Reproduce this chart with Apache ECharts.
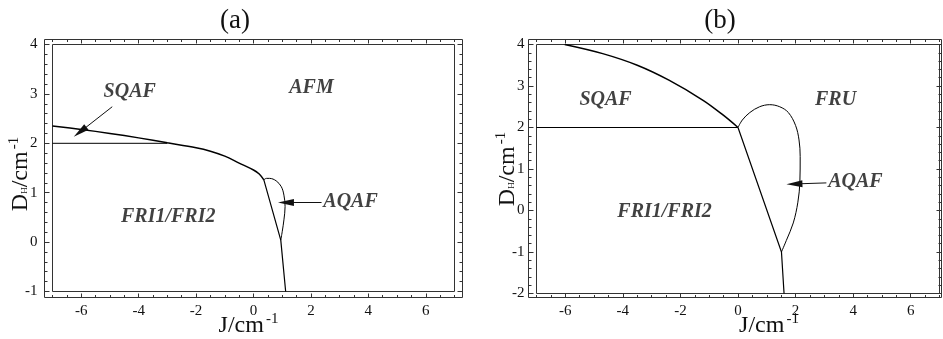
<!DOCTYPE html>
<html><head><meta charset="utf-8">
<script src="https://cdn.jsdelivr.net/npm/echarts@6/dist/echarts.min.js"></script>
<style>html,body{margin:0;padding:0;background:#fff}#c{width:943px;height:339px}</style>
</head><body><div id="c"></div>
<script>
// ---------- tick labels ----------
const xTicks = [-6, -4, -2, 0, 2, 4, 6];
const yTicksA = [-1, 0, 1, 2, 3, 4];
const yTicksB = [-2, -1, 0, 1, 2, 3, 4];

// ---------- panel (a) ----------
const aCurveX = [-7, -6, -5, -4, -3, -2, -1.5, -1, -0.5, 0, 0.2, 0.36];
const aCurveY = [2.35, 2.28, 2.20, 2.11, 2.01, 1.91, 1.84, 1.74, 1.60, 1.46, 1.38, 1.26];
const aStraightX = [0.36, 0.95, 1.12];
const aStraightY = [1.26, 0.04, -1.0];
const aLevelX = [-7, -3.0];
const aLevelY = [2, 2];
const aLoopX = [0.36, 0.45, 0.56, 0.79, 0.97, 1.06, 1.10, 1.06, 1.0, 0.95];
const aLoopY = [1.26, 1.29, 1.29, 1.24, 1.12, 0.95, 0.72, 0.45, 0.21, 0.04];
const aLabels = ['SQAF', 'AFM', 'FRI1/FRI2', 'AQAF'];
const aLabelX = [-4.31, 2.02, -2.97, 3.38];
const aLabelY = [3.04, 3.12, 0.52, 0.81];
const aArrowFrom = [[-4.92, 2.74], [2.37, 0.80]];
const aArrowTo = [[-6.04, 2.23], [1.13, 0.80]];

// ---------- panel (b) ----------
const bCurveX = [-6.02, -4.7, -3.5, -2.4, -1.2, -0.5, 0];
const bCurveY = [4.0, 3.78, 3.5, 3.14, 2.65, 2.29, 2.0];
const bStraightX = [0, 1.51, 1.6];
const bStraightY = [2, -1.0, -2.0];
const bLevelX = [-7, 0];
const bLevelY = [2, 2];
const bLoopX = [0, 0.15, 0.41, 0.75, 1.1, 1.45, 1.75, 2.0, 2.12, 2.16, 2.15, 2.08, 1.92, 1.68, 1.51];
const bLoopY = [2.0, 2.18, 2.36, 2.5, 2.55, 2.5, 2.36, 2.05, 1.7, 1.3, 0.7, 0.2, -0.3, -0.72, -1.0];
const bLabels = ['SQAF', 'FRU', 'FRI1/FRI2', 'AQAF'];
const bLabelX = [-4.60, 3.39, -2.55, 4.08];
const bLabelY = [2.665, 2.665, -0.02, 0.70];
const bArrowFrom = [[3.07, 0.665]];
const bArrowTo = [[1.96, 0.64]];

// ---------- helpers ----------
const FONT = "'Liberation Serif','DejaVu Serif','Times New Roman',serif";
const INK = '#111';
const FRAME = '#333';
const zip = (xs, ys) => xs.map((x, i) => [x, ys[i]]);

const nameRich = {
  m: {fontFamily: FONT, fontSize: 24, lineHeight: 28, color: INK},
  sup: {fontFamily: FONT, fontSize: 15, lineHeight: 20, verticalAlign: 'top', color: INK, padding: [0, 0, 0, 2]},
  sub: {fontFamily: FONT, fontSize: 9, lineHeight: 9, verticalAlign: 'middle', color: INK, padding: [8, 0, 0, 0]}
};
const noLine = {show: false, onZero: false};

function xAxesFor(gi, offB, offT, namePad) {
  const base = {type: 'value', gridIndex: gi, min: -7, max: 7, axisLine: noLine, splitLine: {show: false}};
  const major = {show: true, inside: true, length: 4, customValues: xTicks, lineStyle: {color: FRAME, width: 1}};
  const minor = {show: true, inside: true, length: 2.5, lineStyle: {color: FRAME, width: 1}};
  return [
    Object.assign({}, base, {position: 'bottom', offset: offB, axisTick: major,
      axisLabel: {customValues: xTicks, margin: 6, fontFamily: FONT, fontSize: 15, color: INK},
      name: '{m|J/cm}{sup|-1}', nameLocation: 'middle', nameGap: 14, nameMoveOverlap: false,
      nameTextStyle: {rich: nameRich, padding: namePad}}),
    Object.assign({}, base, {position: 'bottom', offset: offB, interval: 0.5, axisTick: minor, axisLabel: {show: false}}),
    Object.assign({}, base, {position: 'top', offset: offT, axisTick: major, axisLabel: {show: false}}),
    Object.assign({}, base, {position: 'top', offset: offT, interval: 0.5, axisTick: minor, axisLabel: {show: false}}),
    {type: 'value', gridIndex: gi + 1, show: false, min: 0, max: 1, axisLine: noLine}
  ];
}
function yAxesFor(gi, min, max, ticks, offL, offR, nameGap, namePad, labelMargin) {
  const base = {type: 'value', gridIndex: gi, min: min, max: max, axisLine: noLine, splitLine: {show: false}};
  const major = {show: true, inside: true, length: 5, customValues: ticks, lineStyle: {color: FRAME, width: 1}};
  const minor = {show: true, inside: true, length: 3, lineStyle: {color: FRAME, width: 1}};
  return [
    Object.assign({}, base, {position: 'left', offset: offL, axisTick: major,
      axisLabel: {customValues: ticks, margin: labelMargin, fontFamily: FONT, fontSize: 15, color: INK},
      name: '{m|D}{sub|H}{m|/cm}{sup|-1}', nameLocation: 'middle', nameGap: nameGap, nameMoveOverlap: false,
      nameTextStyle: {rich: nameRich, padding: namePad}}),
    Object.assign({}, base, {position: 'left', offset: offL, interval: 0.2, axisTick: minor, axisLabel: {show: false}}),
    Object.assign({}, base, {position: 'right', offset: offR, axisTick: major, axisLabel: {show: false}}),
    Object.assign({}, base, {position: 'right', offset: offR, interval: 0.2, axisTick: minor, axisLabel: {show: false}}),
    {type: 'value', gridIndex: gi + 1, show: false, min: 0, max: 1, axisLine: noLine}
  ];
}
function lineSeries(xi, xs, ys, width, smooth) {
  return {type: 'line', xAxisIndex: xi, yAxisIndex: xi, data: zip(xs, ys), showSymbol: false, symbol: 'none',
    smooth: smooth ? 0.35 : false, lineStyle: {color: '#000', width: width}, silent: true, clip: true, z: 5};
}
function labelSeries(xi, texts, xs, ys) {
  return {type: 'scatter', xAxisIndex: xi, yAxisIndex: xi, symbolSize: 1, itemStyle: {color: 'rgba(0,0,0,0)'},
    data: texts.map((t, i) => ({name: t, value: [xs[i], ys[i]]})), silent: true, z: 6,
    label: {show: true, position: 'inside', formatter: '{b}', fontFamily: FONT, fontStyle: 'italic',
      fontWeight: 'bold', fontSize: 20, color: INK}};
}
function arrowSeries(xi, from, to) {
  return {type: 'lines', coordinateSystem: 'cartesian2d', xAxisIndex: xi, yAxisIndex: xi, silent: true, z: 6,
    symbol: ['none', 'triangle'], symbolSize: [1, [7, 16]],
    lineStyle: {color: '#111', width: 1, opacity: 1}, itemStyle: {color: '#111'},
    data: from.map((f, i) => ({coords: [f, to[i]]}))};
}
const gridBase = {show: true, borderColor: FRAME, borderWidth: 1, backgroundColor: 'transparent', containLabel: false, outerBoundsMode: 'none'};

const option = {
  backgroundColor: '#fff',
  animation: false,
  graphic: [
    {type: 'text', x: 235, y: 21, style: {text: '(a)', fontFamily: FONT, fontSize: 27, fill: INK,
      align: 'center', verticalAlign: 'middle', textAlign: 'center', textVerticalAlign: 'middle'}},
    {type: 'text', x: 720, y: 21, style: {text: '(b)', fontFamily: FONT, fontSize: 27, fill: INK,
      align: 'center', verticalAlign: 'middle', textAlign: 'center', textVerticalAlign: 'middle'}}
  ],
  grid: [
    Object.assign({left: 52.5, top: 44.5, right: 488.5, bottom: 47.5}, gridBase),
    Object.assign({left: 44.5, top: 39.5, right: 480.5, bottom: 41.5}, gridBase),
    Object.assign({left: 536.5, top: 44.5, right: 3.5, bottom: 45.5}, gridBase),
    Object.assign({left: 528.5, top: 39.5, right: 1.5, bottom: 41.5}, gridBase)
  ],
  xAxis: [].concat(xAxesFor(0, 6, 5, [0, 10, 0, 0]), xAxesFor(2, 4, 5, [0, 0, 0, 62])),
  yAxis: [].concat(yAxesFor(0, -1, 4, yTicksA, 8, 8, 10, [0, 12, 0, 0], 7), yAxesFor(2, -2, 4, yTicksB, 8, 2, 7, [0, 0, 0, 0], 4)),
  series: [
    lineSeries(0, aCurveX, aCurveY, 1.5, true),
    lineSeries(0, aStraightX, aStraightY, 1.2, false),
    lineSeries(0, aLevelX, aLevelY, 1, false),
    lineSeries(0, aLoopX, aLoopY, 1, true),
    labelSeries(0, aLabels, aLabelX, aLabelY),
    arrowSeries(0, aArrowFrom, aArrowTo),
    lineSeries(5, bCurveX, bCurveY, 1.5, true),
    lineSeries(5, bStraightX, bStraightY, 1.2, false),
    lineSeries(5, bLevelX, bLevelY, 1.2, false),
    lineSeries(5, bLoopX, bLoopY, 1, true),
    labelSeries(5, bLabels, bLabelX, bLabelY),
    arrowSeries(5, bArrowFrom, bArrowTo)
  ]
};
const chart = echarts.init(document.getElementById('c'), null, {renderer: 'canvas'});
chart.setOption(option);
</script></body></html>
